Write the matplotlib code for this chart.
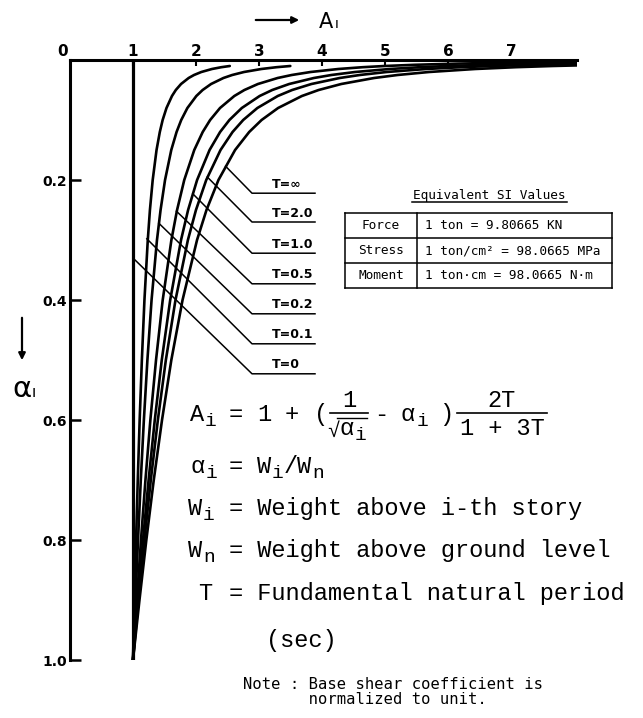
"""Distribution of the shear coefficient Ai along the building height (scanned design chart)."""

import matplotlib

matplotlib.use("Agg")
import matplotlib.pyplot as plt
from matplotlib.patches import FancyArrowPatch

W, H = 643, 718

# alpha_i = Wi / Wn, read downwards on the left axis
ALPHA = [1.0, 0.9, 0.8, 0.7, 0.6, 0.5, 0.4, 0.3, 0.25, 0.2, 0.15, 0.12, 0.1,
         0.08, 0.06, 0.05, 0.04, 0.03, 0.025, 0.02, 0.015, 0.012, 0.01,
         0.008, 0.006, 0.005, 0.004, 0.003]

# Ai at the ALPHA points above (curves stop where they end)
AI_T_INF = [1.000, 1.103, 1.212, 1.330, 1.461, 1.609, 1.787, 2.017, 2.167, 2.357, 2.621, 2.845, 3.042,
            3.304, 3.682, 3.948, 4.307, 4.829, 5.200, 5.701, 6.433, 7.078, 7.660, 8.448]
AI_T_20 = [1.000, 1.088, 1.182, 1.283, 1.395, 1.522, 1.675, 1.872, 2.000, 2.163, 2.390, 2.581, 2.750,
           2.975, 3.299, 3.527, 3.834, 4.282, 4.600, 5.029, 5.657, 6.210, 6.709, 7.384, 8.374]
AI_T_10 = [1.000, 1.077, 1.159, 1.248, 1.346, 1.457, 1.591, 1.763, 1.875, 2.018, 2.216, 2.383, 2.531,
           2.728, 3.011, 3.211, 3.480, 3.872, 4.150, 4.526, 5.075, 5.558, 5.995, 6.586, 7.452, 8.069]
AI_T_05 = [1.000, 1.062, 1.127, 1.198, 1.276, 1.366, 1.472, 1.610, 1.700, 1.814, 1.973, 2.107, 2.225,
           2.382, 2.609, 2.769, 2.984, 3.297, 3.520, 3.820, 4.260, 4.647, 4.996, 5.469, 6.162, 6.655,
           7.323, 8.302]
AI_T_02 = [1.000, 1.039, 1.080, 1.124, 1.173, 1.229, 1.295, 1.381, 1.438, 1.509, 1.608, 1.692, 1.766,
           1.864, 2.006, 2.106, 2.240, 2.436, 2.575, 2.763, 3.038, 3.279, 3.498]
AI_T_01 = [1.000, 1.024, 1.049, 1.076, 1.106, 1.141, 1.182, 1.235, 1.269, 1.313, 1.374, 1.426, 1.471,
           1.532, 1.619, 1.680, 1.763, 1.884, 1.969, 2.085, 2.254, 2.403, 2.537]
ALPHA_T_0 = [0.0, 1.0]
AI_T_0 = [1.0, 1.0]

T_LABELS = ["T=∞", "T=2.0", "T=1.0", "T=0.5", "T=0.2", "T=0.1", "T=0"]
# where each leader line touches its curve (Ai, alpha)
LEADER_AI = [2.47, 2.18, 1.95, 1.69, 1.41, 1.22, 1.0]
LEADER_ALPHA = [0.177, 0.195, 0.223, 0.252, 0.272, 0.298, 0.33]
LABEL_ALPHA = [0.222, 0.270, 0.322, 0.373, 0.423, 0.473, 0.523]

X_TICKS = [1, 2, 3, 4, 5, 6, 7]
Y_TICKS = [0.2, 0.4, 0.6, 0.8, 1.0]

TABLE_ROWS = ["Force", "Stress", "Moment"]
TABLE_VALUES = ["1 ton = 9.80665 KN", "1 ton/cm² = 98.0665 MPa", "1 ton·cm = 98.0665 N·m"]

MONO = ["Liberation Mono", "DejaVu Sans Mono"]
GOTHIC = "DejaVu Sans Mono"


def fx(x):
    return x / W


def fy(y):
    return 1 - y / H


def put(x, y, s, size=17, family=MONO, **kw):
    """Text placed at pixel position (x, baseline y)."""
    return fig.text(fx(x), fy(y), s, fontsize=size, family=family, va="baseline", **kw)


def hline(x0, x1, y, lw=1.2):
    fig.add_artist(plt.Line2D([fx(x0), fx(x1)], [fy(y), fy(y)], color="black", lw=lw))


def vline(x, y0, y1, lw=1.2):
    fig.add_artist(plt.Line2D([fx(x), fx(x)], [fy(y0), fy(y1)], color="black", lw=lw))


fig = plt.figure(figsize=(W / 100, H / 100), dpi=100)
fig.patch.set_facecolor("white")
ax = fig.add_axes([fx(70), fy(660), 507 / W, 600 / H])
ax.set_xlim(0, 8.05)
ax.set_ylim(1.0, 0.0)
ax.patch.set_visible(False)

for key in ("bottom", "right"):
    ax.spines[key].set_visible(False)
for key in ("top", "left"):
    ax.spines[key].set_linewidth(2.2)

ax.xaxis.tick_top()
ax.set_xticks(X_TICKS)
ax.set_xticklabels([str(t) for t in X_TICKS], fontsize=11, fontweight="bold")
ax.tick_params(axis="x", direction="in", length=4, width=1.5, pad=1)
ax.set_yticks(Y_TICKS)
ax.set_yticklabels([f"{t:.1f}" for t in Y_TICKS], fontsize=10, fontweight="bold")
ax.tick_params(axis="y", direction="in", length=8, width=1.8, pad=2)

curves = [AI_T_INF, AI_T_20, AI_T_10, AI_T_05, AI_T_02, AI_T_01]
for ai in curves:
    ax.plot(ai, ALPHA[:len(ai)], color="black", lw=1.9, solid_capstyle="round")
ax.plot(AI_T_0, ALPHA_T_0, color="black", lw=2.3)

lab_x0, lab_x1 = 2.89, 3.89
for label, a_i, al, la in zip(T_LABELS, LEADER_AI, LEADER_ALPHA, LABEL_ALPHA):
    ax.plot([a_i, lab_x0, lab_x1], [al, la, la], color="black", lw=1.1)
    ax.text(3.2, la - 0.004, label, fontsize=9, fontweight="bold", ha="left", va="bottom")

# "0" at the corner
fig.text(fx(68), fy(59), "0", fontsize=11, fontweight="bold", ha="right", va="bottom")

# Ai arrow on top
fig.add_artist(FancyArrowPatch((fx(253), fy(20)), (fx(302), fy(20)), transform=fig.transFigure,
                               arrowstyle="-|>", mutation_scale=10, lw=1.6, color="black"))
fig.text(fx(319), fy(28), "A", fontsize=15, ha="left", va="baseline")
fig.text(fx(335), fy(28), "ı", fontsize=10, ha="left", va="baseline")

# alpha arrow on the left
fig.add_artist(FancyArrowPatch((fx(22), fy(315)), (fx(22), fy(363)), transform=fig.transFigure,
                               arrowstyle="-|>", mutation_scale=10, lw=1.6, color="black"))
fig.text(fx(12), fy(397), "α", fontsize=21, ha="left", va="baseline")
fig.text(fx(32), fy(397), "ı", fontsize=11, ha="left", va="baseline")

# SI table
tx0, tx1, tx2 = 345, 417, 612
ty = [213, 238, 263, 288]
fig.text(fx(489), fy(199), "Equivalent SI Values", fontsize=9.2, family=GOTHIC,
         ha="center", va="baseline")
hline(412, 567, 202, lw=1.1)
for y in ty:
    hline(tx0, tx2, y, lw=1.1)
for x in (tx0, tx1, tx2):
    vline(x, ty[0], ty[-1], lw=1.1)
for i, (name, value) in enumerate(zip(TABLE_ROWS, TABLE_VALUES)):
    yc = (ty[i] + ty[i + 1]) / 2
    fig.text(fx((tx0 + tx1) / 2), fy(yc), name, fontsize=9.2, family=GOTHIC,
             ha="center", va="center")
    fig.text(fx(425), fy(yc), value, fontsize=9.2, family=GOTHIC, ha="left", va="center")

# Ai formula, typed piece by piece with full-size fractions
SUB = 14
put(190, 421, "A")
put(205, 426, "i", SUB)
put(229, 421, "=")
put(257, 421, "1")
put(285, 421, "+")
put(314, 421, "(")
put(349, 407, "1", ha="center")
hline(330, 368, 413)
put(327, 437, "√", 15)
hline(337, 367, 418, lw=1.0)
put(340, 435, "α")
put(355, 440, "i", SUB)
put(374, 421, "-")
put(401, 421, "α")
put(417, 426, "i", SUB)
put(439, 421, ")")
hline(457, 547, 413)
put(502, 407, "2T", ha="center")
put(502, 435, "1 + 3T", ha="center")

# alpha_i = Wi/Wn
put(190, 473, "α")
put(206, 478, "i", SUB)
put(229, 473, "=")
put(257, 473, "W")
put(272, 478, "i", SUB)
put(284, 473, "/")
put(297, 473, "W")
put(312, 478, "n", SUB)

put(188, 515, "W")
put(203, 520, "i", SUB)
put(229, 515, "= Weight above i-th story")
put(188, 557, "W")
put(203, 562, "n", SUB)
put(229, 557, "= Weight above ground level")
put(198, 600, "T")
put(229, 600, "= Fundamental natural period")
put(266, 647, "(sec)")

put(243, 689, "Note : Base shear coefficient is", 11.2, GOTHIC)
put(243, 704, "       normalized to unit.", 11.2, GOTHIC)

fig.savefig("out.png", dpi=100, facecolor="white")
